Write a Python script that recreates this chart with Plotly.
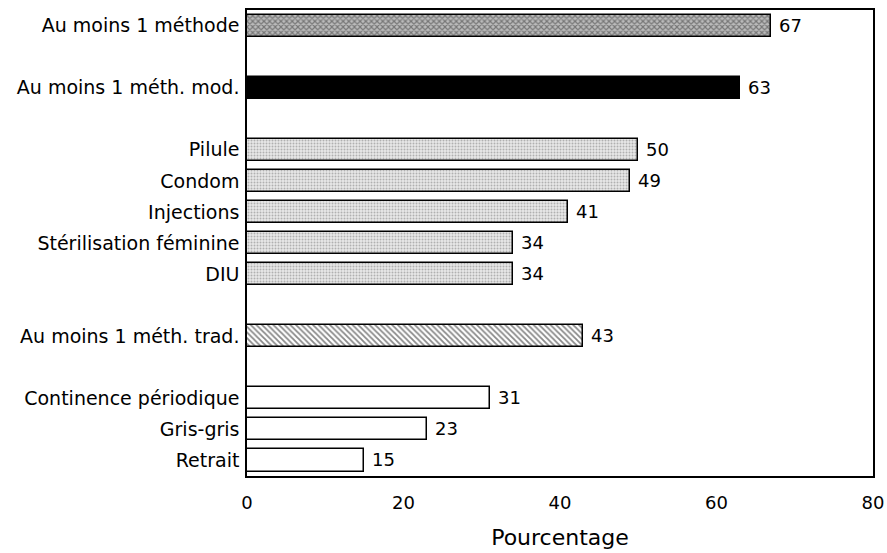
import plotly.graph_objects as go

# ---- data ----
group_any_labels = ["Au moins 1 méthode"]
group_any_values = [67]
group_mod_labels = ["Au moins 1 méth. mod."]
group_mod_values = [63]
modern_labels = ["Pilule", "Condom", "Injections", "Stérilisation féminine", "DIU"]
modern_values = [50, 49, 41, 34, 34]
group_trad_labels = ["Au moins 1 méth. trad."]
group_trad_values = [43]
trad_labels = ["Continence périodique", "Gris-gris", "Retrait"]
trad_values = [31, 23, 15]
x_ticks = [0, 20, 40, 60, 80]

FONT = "DejaVu Sans"

groups = [
    (group_any_labels, group_any_values,
     dict(color="white", pattern=dict(shape="x", size=4, solidity=0.5, fgcolor="#333", bgcolor="#bbb"))),
    (group_mod_labels, group_mod_values, dict(color="black")),
    (modern_labels, modern_values,
     dict(color="white", pattern=dict(shape=".", size=3, solidity=0.35, fgcolor="#777", bgcolor="#e8e8e8"))),
    (group_trad_labels, group_trad_values,
     dict(color="white", pattern=dict(shape="\\", size=4, solidity=0.45, fgcolor="#111", bgcolor="white"))),
    (trad_labels, trad_values, dict(color="white")),
]

fig = go.Figure()
pos = 0
tickvals, ticktext = [], []
for labels, values, marker in groups:
    ys = list(range(pos, pos + len(labels)))
    tickvals += ys
    ticktext += labels
    marker = dict(marker)
    marker["line"] = dict(color="black", width=1.5)
    fig.add_trace(go.Bar(
        y=ys, x=values, orientation="h", width=0.71,
        marker=marker, texttemplate=" %{x}",
        textposition="outside", cliponaxis=False,
        textfont=dict(family=FONT, size=18, color="black"),
        showlegend=False, hoverinfo="x+y",
    ))
    pos += len(labels) + 1

fig.update_layout(
    width=887, height=553,
    margin=dict(l=247, r=14, t=10, b=77),
    paper_bgcolor="white", plot_bgcolor="white",
    font=dict(family=FONT, color="black", size=18),
    bargap=0,
    xaxis=dict(range=[0, 80], tickvals=x_ticks, showgrid=False, zeroline=False,
               showline=True, linecolor="black", linewidth=1.5, mirror=True,
               automargin=False,
               ticks="", tickfont=dict(size=18), ticklabelstandoff=10,
               title=dict(text="Pourcentage", font=dict(size=22), standoff=17)),
    yaxis=dict(range=[14.5, -0.5], tickvals=tickvals, ticktext=ticktext,
               automargin=False,
               showgrid=False, zeroline=False, showline=True, linecolor="black",
               linewidth=1.5, mirror=True, ticks="", tickfont=dict(size=19),
               ticklabelstandoff=2),
)

# remove the default 8px page margin so the figure fills the window exactly
fig.write_html("out.html",
               config={"displayModeBar": False},
               post_script="document.body.style.margin='0';document.body.style.overflow='hidden';")
